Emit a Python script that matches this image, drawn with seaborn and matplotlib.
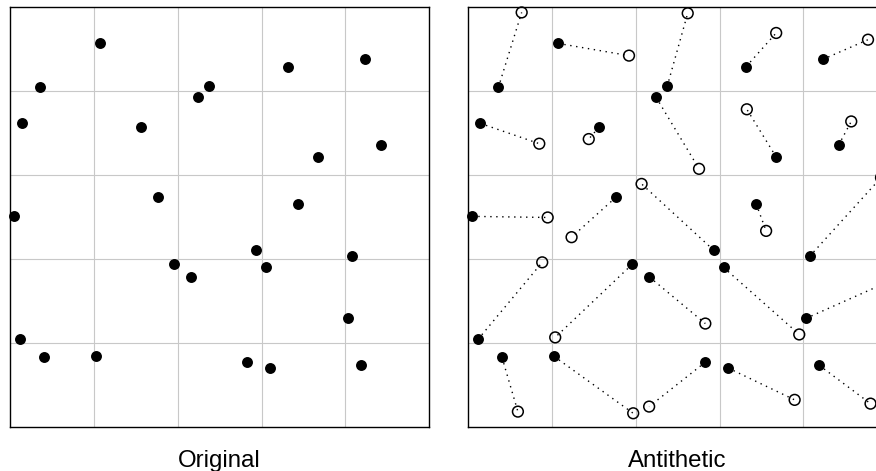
import matplotlib
matplotlib.use("Agg")
import matplotlib.pyplot as plt
import numpy as np
import pandas as pd
import seaborn as sns

# ---- data ----
orig_x = [0.2156, 0.846, 0.6635, 0.0724, 0.475, 0.4487, 0.0294, 0.3119, 0.8839, 0.7351,
          0.3524, 0.6874, 0.0103, 0.5855, 0.8147, 0.3914, 0.6094, 0.4328, 0.8059, 0.0239,
          0.0811, 0.2053, 0.5664, 0.6205, 0.8377]
orig_y = [0.914, 0.876, 0.859, 0.809, 0.8116, 0.7854, 0.7234, 0.7138, 0.6717, 0.6431,
          0.5469, 0.531, 0.5016, 0.4213, 0.4062, 0.3871, 0.38, 0.3569, 0.2583, 0.2083,
          0.1653, 0.1677, 0.1542, 0.1399, 0.1463]
anti_x = [0.384, 0.954, 0.735, 0.128, 0.524, 0.551, 0.170, 0.288, 0.914, 0.665,
          0.247, 0.711, 0.190, 0.414, 0.985, 0.208, 0.790, 0.566, 0.994, 0.177,
          0.119, 0.394, 0.432, 0.779, 0.960]
anti_y = [0.885, 0.923, 0.939, 0.988, 0.986, 0.615, 0.675, 0.686, 0.728, 0.757,
          0.452, 0.467, 0.499, 0.579, 0.594, 0.213, 0.220, 0.246, 0.342, 0.392,
          0.036, 0.032, 0.048, 0.064, 0.055]
grid_ticks = [0.2, 0.4, 0.6, 0.8]
panel_titles = ["Original", "Antithetic"]

sns.set_theme(style="white")
plt.rcParams["font.family"] = ["Liberation Sans", "DejaVu Sans"]
plt.rcParams["text.color"] = "black"

W, H = 876, 471
fig = plt.figure(figsize=(W / 100, H / 100), dpi=100)
side = 419.3
bottom_px = 426.7


def make_ax(left_px):
    ax = fig.add_axes([left_px / W, (H - bottom_px) / H, side / W, side / H])
    ax.set_xlim(0, 1)
    ax.set_ylim(0, 1)
    ax.set_xticks(grid_ticks)
    ax.set_yticks(grid_ticks)
    ax.tick_params(length=0, labelbottom=False, labelleft=False)
    ax.grid(True, color="#c8c8c8", linewidth=0.8)
    ax.set_axisbelow(True)
    for sp in ax.spines.values():
        sp.set_color("black")
        sp.set_linewidth(1.0)
        sp.set_visible(True)
    return ax


ax1 = make_ax(10)
ax2 = make_ax(468)

# left panel
sns.scatterplot(x=orig_x, y=orig_y, ax=ax1, color="black", s=62, linewidth=0,
                clip_on=False, zorder=3, legend=False)

# right panel: pair lines
n = len(orig_x)
df = pd.DataFrame({
    "pair": list(range(n)) * 2,
    "order": [0] * n + [1] * n,
    "x": orig_x + anti_x,
    "y": orig_y + anti_y,
}).sort_values(["pair", "order"])
sns.lineplot(data=df, x="x", y="y", units="pair", estimator=None, sort=False,
             color="black", linewidth=1.0, linestyle=(0, (1, 3.3)), ax=ax2,
             legend=False, zorder=2)
sns.scatterplot(x=orig_x, y=orig_y, ax=ax2, color="black", s=62, linewidth=0,
                clip_on=False, zorder=3, legend=False)
sns.scatterplot(x=anti_x, y=anti_y, ax=ax2, color="black", facecolor="none",
                edgecolor="black", s=60, linewidth=1.1, clip_on=False, zorder=3,
                legend=False)
for ax in (ax1, ax2):
    ax.set_xlabel("")
    ax.set_ylabel("")
    ax.set_xlim(0, 1)
    ax.set_ylim(0, 1)

fig.text((10 + side / 2) / W, (H - 467) / H, panel_titles[0], ha="center",
         va="baseline", fontsize=17.3, color="black")
fig.text((468 + side / 2) / W, (H - 467) / H, panel_titles[1], ha="center",
         va="baseline", fontsize=17.3, color="black")

fig.savefig("out.png", dpi=100)
